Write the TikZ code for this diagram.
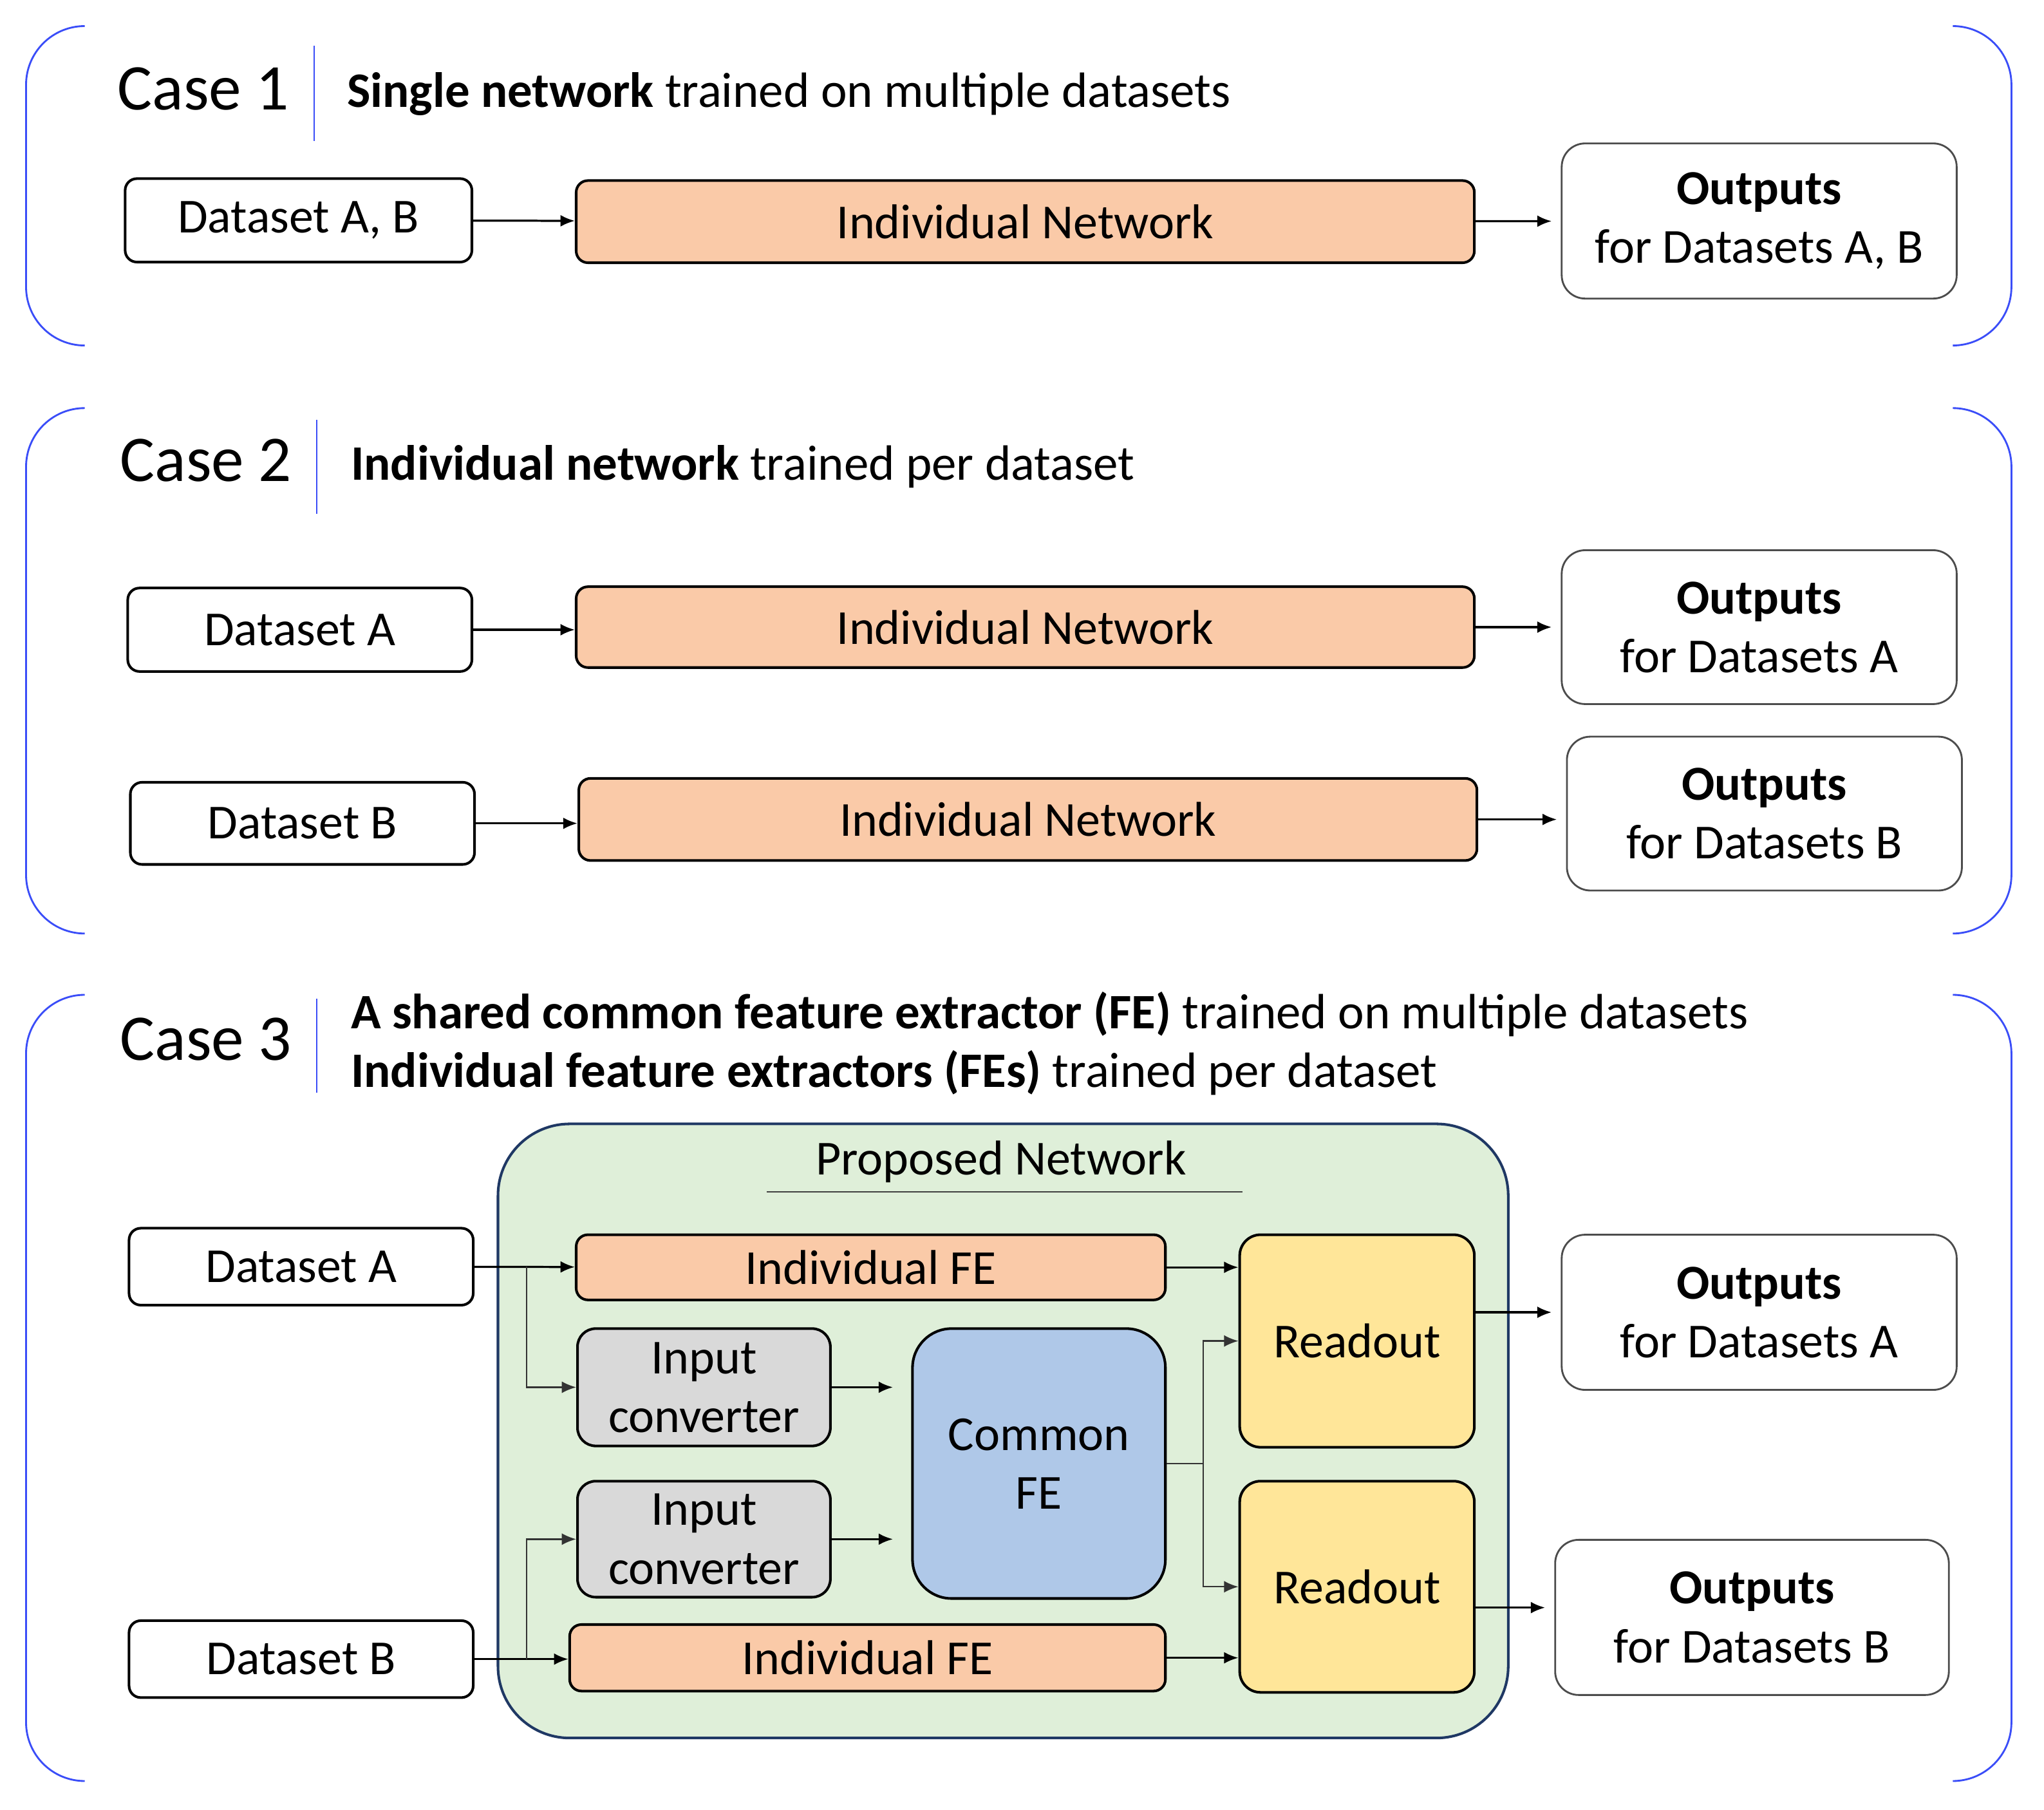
\documentclass[tikz,border=0pt]{standalone}
\usepackage{fontspec}
\setmainfont{Carlito}
\usetikzlibrary{arrows.meta,positioning}

\definecolor{peach}{HTML}{FACAA8}
\definecolor{convgray}{HTML}{D9D9D9}
\definecolor{commonblue}{HTML}{AFC8E8}
\definecolor{readoutyellow}{HTML}{FFE699}
\definecolor{propgreen}{HTML}{DFEFD9}
\definecolor{propborder}{HTML}{1F3864}
\definecolor{bracketblue}{HTML}{3A4DF8}

\newcommand\boxfont{\fontsize{37.5}{45}\selectfont}
\newcommand\casefont{\fontsize{50}{60}\selectfont}
\newcommand\titlefont{\fontsize{38}{45}\selectfont}

\begin{document}
\begin{tikzpicture}[x=1pt, y=-1pt,
        every node/.style={font=\boxfont, align=center, inner sep=0pt},
        databox/.style={draw, rounded corners=9pt, line width=2pt, fill=white},
        netbox/.style={draw, rounded corners=9pt, line width=2pt, fill=peach},
        outbox/.style={draw=black!70, rounded corners=18pt, line width=1.4pt, fill=white},
        convbox/.style={draw, rounded corners=14pt, line width=2pt, fill=convgray},
        commonbox/.style={draw, rounded corners=30pt, line width=2pt, fill=commonblue},
        readbox/.style={draw, rounded corners=16pt, line width=2pt, fill=readoutyellow},
        propframe/.style={draw=propborder, rounded corners=55pt, line width=2pt, fill=propgreen},
        casehead/.style={font=\casefont},
        casetext/.style={font=\titlefont, anchor=west, align=left},
        caseline/.style={draw=bracketblue, line width=1.2pt},
        bracket/.style={draw=bracketblue, line width=1.4pt, rounded corners=45pt},
        flow/.style={draw, -{Latex[length=11pt,width=9pt]}, line width=1.6pt},
        branch/.style={draw=black!80, -{Latex[length=11pt,width=9pt]}, line width=1.1pt},
    ]
    \useasboundingbox (0,0) rectangle (1568,1388);

    % brackets
    \foreach \top/\bot in {20/265, 313/716, 763/1366}{
        \draw[bracket] (65,\top) -- (20,\top) -- (20,\bot) -- (65,\bot);
        \draw[bracket] (1500,\top) -- (1543,\top) -- (1543,\bot) -- (1500,\bot);
    }

    % case 1
    \node[casehead] (case1) at (156,68) {Case 1};
    \draw[caseline] (241,35) -- (241,108);
    \node[casetext] (title1) at (266,72) {\textbf{Single network} trained on multiple datasets};

    \node[databox, minimum width=266pt, minimum height=64pt] (dsAB) at (229,169) {Dataset A, B};
    \node[netbox, minimum width=689pt, minimum height=63pt] (net1) at (786.5,170) {Individual Network};
    \node[outbox, minimum width=303pt, minimum height=119pt] (outAB) at (1349.5,169.5) {\textbf{Outputs}\\for Datasets A, B};
    \draw[flow] (dsAB) -- (net1);
    \draw[flow, shorten >=7pt] (net1) -- (outAB);

    % case 2
    \node[casehead] (case2) at (158,353) {Case 2};
    \draw[caseline] (243,322) -- (243,394);
    \node[casetext] (title2) at (269,358) {\textbf{Individual network} trained per dataset};

    \node[databox, minimum width=264pt, minimum height=64pt] (dsA2) at (230,483) {Dataset A};
    \node[netbox, minimum width=689pt, minimum height=62pt] (net2a) at (786.5,481) {Individual Network};
    \node[outbox, minimum width=303pt, minimum height=118pt] (outA2) at (1349.5,481) {\textbf{Outputs}\\for Datasets A};
    \node[databox, minimum width=264pt, minimum height=63pt] (dsB2) at (232,631.5) {Dataset B};
    \node[netbox, minimum width=689pt, minimum height=63pt] (net2b) at (788.5,628.5) {Individual Network};
    \node[outbox, minimum width=303pt, minimum height=118pt] (outB2) at (1353.5,624) {\textbf{Outputs}\\for Datasets B};
    \draw[flow] (dsA2.east) -- (dsA2.east -| net2a.west);
    \draw[flow, shorten >=7pt] (net2a) -- (outA2);
    \draw[flow] (dsB2.east) -- (dsB2.east -| net2b.west);
    \draw[flow, shorten >=7pt] (net2b.east) -- (net2b.east -| outB2.west);

    % case 3
    \node[casehead] (case3) at (158,797) {Case 3};
    \draw[caseline] (243,766) -- (243,838);
    \node[casetext] (title3) at (269,800.5) {\textbf{A shared common feature extractor (FE)} trained on multiple datasets\\
        \textbf{Individual feature extractors (FEs)} trained per dataset};

    \node[propframe, minimum width=775pt, minimum height=471pt] (proposed) at (769.5,1097.5) {};
    \node (proptitle) at (768,891) {Proposed Network};
    \draw[line width=1pt, black!75] (588,914) -- (953,914);

    \node[databox, minimum width=264pt, minimum height=59pt] (dsA3) at (231,971.5) {Dataset A};
    \node[databox, minimum width=264pt, minimum height=59pt] (dsB3) at (231,1272.5) {Dataset B};
    \node[netbox, minimum width=452pt, minimum height=50pt] (feA) at (668,972) {Individual FE};
    \node[netbox, minimum width=457pt, minimum height=51pt] (feB) at (665.5,1271.5) {Individual FE};
    \node[convbox, minimum width=194pt, minimum height=90pt] (convA) at (540,1064) {Input\\converter};
    \node[convbox, minimum width=194pt, minimum height=89pt] (convB) at (540,1180.5) {Input\\converter};
    \node[commonbox, minimum width=194pt, minimum height=207pt] (common) at (797,1122.5) {Common\\FE};
    \node[readbox, minimum width=180pt, minimum height=163pt] (readA) at (1041,1028.5) {Readout};
    \node[readbox, minimum width=180pt, minimum height=162pt] (readB) at (1041,1217) {Readout};
    \node[outbox, minimum width=303pt, minimum height=119pt] (outA3) at (1349.5,1006.5) {\textbf{Outputs}\\for Datasets A};
    \node[outbox, minimum width=302pt, minimum height=119pt] (outB3) at (1344,1240.5) {\textbf{Outputs}\\for Datasets B};

    \draw[flow] (dsA3) -- (feA);
    \draw[branch] ([xshift=40pt]dsA3.east) |- (convA.west);
    \draw[flow] (dsB3.east) -- (dsB3.east -| feB.west);
    \draw[branch] ([xshift=40pt]dsB3.east) |- (convB.west);
    \draw[flow, shorten >=14pt] (convA.east) -- (convA.east -| common.west);
    \draw[flow, shorten >=14pt] (convB.east) -- (convB.east -| common.west);
    \draw[branch, -] (common.east) -- ++(28,0) coordinate (split);
    \draw[branch] (split) |- (readA.west);
    \draw[branch] (split) |- (readB.west);
    \draw[flow] (feA.east) -- (feA.east -| readA.west);
    \draw[flow] (feB.east) -- (feB.east -| readB.west);
    \draw[flow, shorten >=7pt] (outA3.west -| readA.east) -- (outA3.west);
    \draw[flow, shorten >=7pt] (readB.east |- 0,1233) -- (outB3.west |- 0,1233);

\end{tikzpicture}
\end{document}
